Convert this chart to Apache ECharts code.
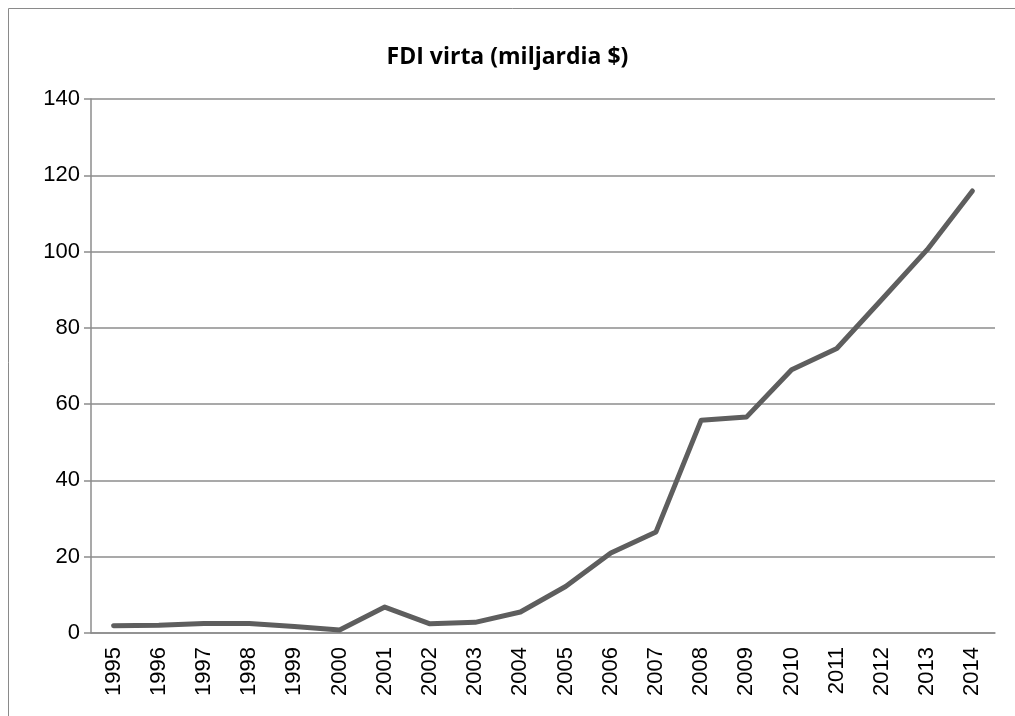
<!DOCTYPE html>
<html>
<head>
<meta charset="utf-8">
<script src="https://cdn.jsdelivr.net/npm/echarts@6/dist/echarts.min.js"></script>
<style>
  html, body { margin: 0; padding: 0; background: #fff; }
  #chart { width: 1015px; height: 716px; }
</style>
</head>
<body>
<div id="chart"></div>
<script>
// vuodet ja FDI-virta (miljardia $)
const years = ['1995', '1996', '1997', '1998', '1999', '2000', '2001', '2002', '2003', '2004',
  '2005', '2006', '2007', '2008', '2009', '2010', '2011', '2012', '2013', '2014'];
const fdi = [1.9, 2.0, 2.5, 2.5, 1.7, 0.8, 6.8, 2.4, 2.8, 5.5,
  12.2, 21.0, 26.5, 55.8, 56.6, 69.0, 74.6, 87.5, 100.5, 115.9];

const chart = echarts.init(document.getElementById('chart'));

chart.setOption({
  animation: false,
  title: {
    text: 'FDI virta (miljardia $)',
    left: 'center',
    top: 41,
    textStyle: {
      fontFamily: 'Open Sans',
      fontWeight: 'bold',
      fontSize: 23,
      color: '#000'
    }
  },
  graphic: [{
    type: 'rect',
    shape: { x: 8.5, y: 8.5, width: 1040, height: 740 },
    style: { fill: 'none', stroke: '#8a8a8a', lineWidth: 1 }
  }],
  grid: { left: 91, right: 20, top: 99, bottom: 83 },
  xAxis: {
    type: 'category',
    data: years,
    boundaryGap: true,
    axisLine: { lineStyle: { color: '#8c8c8c', width: 1.5 } },
    axisTick: { alignWithLabel: false, length: 7, lineStyle: { color: '#8c8c8c', width: 1.5 } },
    axisLabel: {
      rotate: 90,
      margin: 14,
      fontFamily: 'Liberation Sans',
      fontSize: 22,
      color: '#000'
    }
  },
  yAxis: {
    type: 'value',
    min: 0,
    max: 140,
    interval: 20,
    axisLine: { show: true, lineStyle: { color: '#8c8c8c', width: 1.5 } },
    axisTick: { show: true, length: 7, lineStyle: { color: '#8c8c8c', width: 1.5 } },
    splitLine: { lineStyle: { color: '#8c8c8c', width: 1.5 } },
    axisLabel: {
      margin: 11,
      fontFamily: 'Liberation Sans',
      fontSize: 22,
      color: '#000'
    }
  },
  series: [{
    type: 'line',
    data: fdi,
    symbol: 'none',
    lineStyle: { color: '#5e5e5e', width: 5, cap: 'round', join: 'round' }
  }]
});
</script>
</body>
</html>
